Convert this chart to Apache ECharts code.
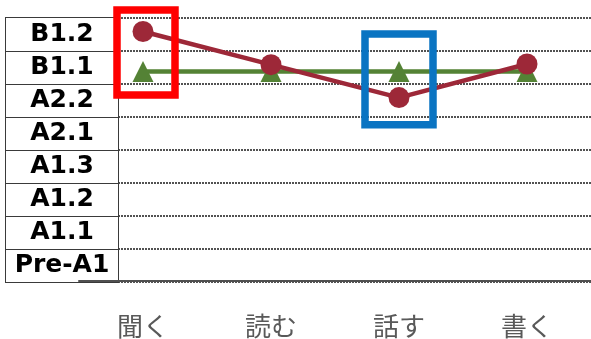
<!DOCTYPE html>
<html>
<head>
<meta charset="utf-8">
<script src="https://cdn.jsdelivr.net/npm/echarts@6/dist/echarts.min.js"></script>
<style>
  html, body { margin: 0; padding: 0; background: #fff; }
  #main { width: 591px; height: 339px; }
</style>
</head>
<body>
<div id="main"></div>
<script>
// skills on the x axis
var skills = ['聞く', '読む', '話す', '書く'];
// level bands, bottom to top
var levels = ['Pre-A1', 'A1.1', 'A1.2', 'A1.3', 'A2.1', 'A2.2', 'B1.1', 'B1.2'];
// red: measured level, green: target level (0 = bottom of Pre-A1 band)
var measured = [7.59, 6.58, 5.58, 6.6];
var target = [6.37, 6.37, 6.37, 6.37];
// highlight boxes: category, value range, box width and shift in px
var boxes = [
  { skill: '聞く', from: 5.66, to: 8.24, w: 58, dx: 3, color: '#ff0000' },
  { skill: '話す', from: 4.75, to: 7.51, w: 68, dx: 0, color: '#0a74c2' }
];

var chart = echarts.init(document.getElementById('main'));

var option = {
  animation: false,
  grid: [
    { left: 79, right: -3, top: 18, bottom: 57 },
    { left: 118, right: 0, top: 18, bottom: 57 }
  ],
  xAxis: [{
    gridIndex: 0,
    type: 'category',
    data: skills,
    z: 5,
    axisLine: { lineStyle: { color: '#505050', width: 2 } },
    axisTick: { show: false },
    axisLabel: {
      color: '#595959',
      fontSize: 26,
      fontFamily: 'Noto Sans CJK JP',
      margin: 32
    }
  }, {
    gridIndex: 1,
    type: 'value',
    show: false
  }],
  yAxis: [{
    gridIndex: 0,
    type: 'value',
    min: 0,
    max: 8,
    show: false
  }, {
    gridIndex: 1,
    type: 'category',
    data: levels,
    boundaryGap: true,
    axisLine: { show: false },
    axisTick: { show: false },
    splitLine: {
      show: true,
      lineStyle: { color: '#1a1a1a', width: 1.5, type: [2, 1] }
    },
    axisLabel: {
      interval: 0,
      align: 'center',
      margin: 56,
      width: 112,
      height: 33,
      lineHeight: 35,
      verticalAlign: 'middle',
      backgroundColor: '#fff',
      borderColor: '#3a3a3a',
      borderWidth: 1,
      color: '#000',
      fontSize: 25,
      fontWeight: 'bold',
      fontFamily: 'DejaVu Sans'
    }
  }],
  series: [{
    name: '目標',
    type: 'line',
    xAxisIndex: 0,
    yAxisIndex: 0,
    data: target,
    symbol: 'triangle',
    symbolSize: 21,
    lineStyle: { color: '#548235', width: 4.5 },
    itemStyle: { color: '#548235' },
    z: 3
  }, {
    name: '結果',
    type: 'line',
    xAxisIndex: 0,
    yAxisIndex: 0,
    data: measured,
    symbol: 'circle',
    symbolSize: 21,
    lineStyle: { color: '#9d2838', width: 4.5 },
    itemStyle: { color: '#9d2838' },
    z: 4
  }]
};

chart.setOption(option);

// annotation boxes placed through the chart's own scales
var graphics = boxes.map(function (b) {
  var top = chart.convertToPixel({ xAxisIndex: 0, yAxisIndex: 0 }, [b.skill, b.to]);
  var bot = chart.convertToPixel({ xAxisIndex: 0, yAxisIndex: 0 }, [b.skill, b.from]);
  return {
    type: 'rect',
    z: 100,
    shape: { x: top[0] + b.dx - b.w / 2, y: top[1], width: b.w, height: bot[1] - top[1] },
    style: { fill: 'none', stroke: b.color, lineWidth: 7.5 }
  };
});
chart.setOption({ graphic: graphics });
</script>
</body>
</html>
